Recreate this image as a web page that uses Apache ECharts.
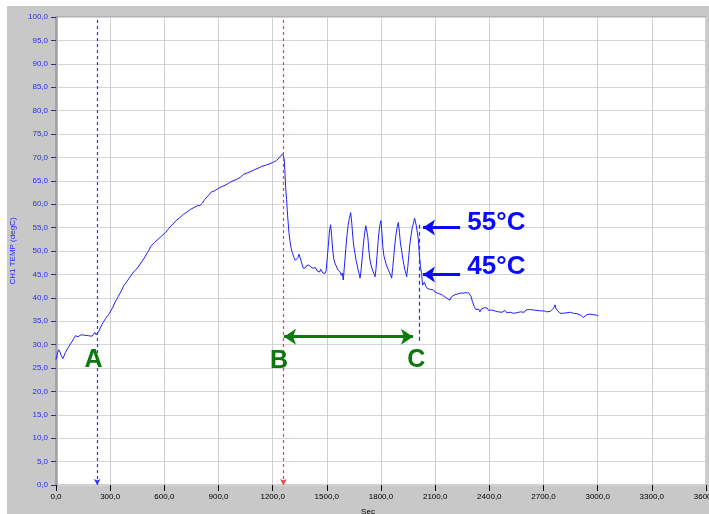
<!DOCTYPE html>
<html>
<head>
<meta charset="utf-8">
<script src="https://cdn.jsdelivr.net/npm/echarts@6/dist/echarts.min.js"></script>
<style>
html,body{margin:0;padding:0;background:#fff;}
#chart{width:709px;height:514px;}
</style>
</head>
<body>
<div id="chart"></div>
<script>
// CH1 temperature [seconds, degC]
const ch1Temp = [
[0,26.8],[8,28.2],[15,28.9],[22,28.4],[30,27.6],[38,27.0],[45,27.3],[52,28.3],[60,28.6],[68,29.4],[78,29.8],[88,30.6],[98,31.3],[108,31.9],[115,32.2],[122,31.7],[130,32.0],[140,32.1],[150,31.8],[160,32.0],[170,32.2],[180,31.9],[190,32.0],[200,31.8],[208,32.2],[215,32.6],[222,32.1],[230,32.4],[238,32.9],[246,33.6],
[255,34.3],[265,35.0],[275,35.6],[285,36.0],[295,36.6],[305,37.3],[315,38.0],[325,38.9],[335,39.6],[345,40.3],[355,41.0],[365,41.7],[375,42.6],[385,43.0],[395,43.6],[405,44.2],[415,44.7],[425,45.3],[435,45.6],[445,46.1],[455,46.6],[465,47.0],[475,47.7],[485,48.3],[495,48.9],[505,49.6],[515,50.2],[525,51.0],[535,51.4],[545,51.8],[555,52.2],[565,52.5],[575,52.9],[585,53.2],[595,53.5],[605,53.9],[615,54.3],[625,54.8],[635,55.3],[645,55.6],[655,56.0],[665,56.5],[675,56.8],[685,57.1],[695,57.4],[705,57.8],[715,58.0],[725,58.3],[735,58.5],[745,58.9],[755,59.1],[765,59.3],[775,59.5],[785,59.7],[790,60.1],[797,59.7],[803,59.6],[810,60.2],[820,60.8],[830,61.3],[840,61.7],[850,62.1],[860,62.6],[870,62.8],[880,62.9],[890,63.3],[900,63.4],[910,63.6],[920,63.8],[930,64.0],[940,64.1],[950,64.4],[960,64.6],[970,64.7],[980,65.0],[990,65.2],[1000,65.3],[1010,65.5],[1020,65.7],[1030,66.0],[1040,66.4],[1050,66.6],[1060,66.7],[1070,66.8],[1080,67.0],[1090,67.2],[1100,67.4],[1110,67.6],[1120,67.7],[1130,67.9],[1140,68.1],[1150,68.2],[1160,68.3],[1170,68.5],[1180,68.6],[1190,68.8],[1200,68.9],[1210,68.8],[1220,69.3],[1230,69.7],[1240,70.1],[1250,70.4],[1256,70.8],[1260,70.6],
[1264,69.5],[1268,67.0],[1272,63.5],[1277,61.0],[1283,57.5],[1290,54.0],[1296,52.0],[1303,50.5],[1310,49.5],[1318,48.6],[1325,48.0],[1333,47.7],[1340,48.6],[1346,49.3],[1352,48.9],[1358,47.8],[1364,47.0],[1370,46.3],[1376,45.9],[1382,46.4],[1388,46.9],[1394,47.3],[1400,47.0],[1406,47.2],[1412,46.6],[1418,46.8],[1424,46.3],[1430,46.0],[1436,46.5],[1442,46.2],[1448,45.7],[1454,46.0],[1460,45.5],[1466,46.1],[1472,45.8],[1478,45.3],[1484,45.6],[1490,45.2],[1496,45.8],
[1500,47.5],[1508,51.0],[1515,54.5],[1521,55.6],[1527,53.0],[1533,50.0],[1539,48.2],[1545,47.4],[1552,46.8],[1560,46.0],[1567,45.9],[1573,45.6],[1580,44.8],[1586,45.3],[1591,43.8],[1598,47.0],[1605,50.5],[1612,53.5],[1618,55.5],[1625,57.0],[1632,58.2],[1638,56.0],[1644,53.0],[1650,50.8],[1656,49.5],[1662,48.0],[1668,47.0],[1674,45.8],[1680,45.0],[1684,44.2],[1690,46.0],[1697,49.0],[1704,52.0],[1710,54.0],[1716,55.4],[1721,55.6],[1727,53.0],[1733,50.0],[1739,48.1],[1745,47.0],[1751,46.2],[1757,45.5],[1762,45.0],[1767,44.5],[1772,46.0],[1778,49.0],[1784,52.0],[1790,54.5],[1795,55.8],[1800,56.5],[1805,54.0],[1810,51.0],[1816,49.0],[1822,48.1],[1828,47.2],[1834,46.6],[1840,46.0],[1846,45.5],[1852,45.0],[1859,44.2],[1865,46.5],[1871,49.0],[1877,51.5],[1883,53.5],[1890,55.2],[1896,56.1],[1902,54.0],[1908,51.5],[1914,50.2],[1920,48.5],[1926,47.2],[1932,46.0],[1938,45.2],[1942,44.5],[1948,46.5],[1954,49.0],[1960,51.5],[1967,53.5],[1973,55.0],[1980,56.0],[1986,57.0],[1990,56.8],[1995,55.5],[2001,54.0],[2007,52.4],[2013,49.0],[2019,46.5],[2025,45.2],[2030,42.7],
[2040,43.3],[2048,42.5],[2056,42.0],[2064,42.3],[2072,41.8],[2080,41.9],[2090,41.7],[2100,41.2],[2110,41.4],[2120,40.9],[2130,41.0],[2140,40.6],[2150,40.3],[2160,40.0],[2170,39.8],[2182,39.5],[2190,40.2],[2198,40.0],[2206,40.6],[2214,40.3],[2222,40.8],[2230,40.5],[2238,41.0],[2246,40.6],[2254,41.0],[2262,40.7],[2270,41.1],[2278,40.8],[2286,41.0],[2293,41.0],[2300,40.2],[2306,39.2],[2311,38.8],[2318,38.0],[2325,37.5],[2332,37.2],[2340,37.6],[2348,37.0],[2356,37.6],[2364,37.3],[2372,37.9],[2380,37.5],[2388,37.8],[2396,37.3],[2404,37.7],[2412,37.4],[2422,37.7],[2430,37.2],[2440,37.5],[2450,37.0],[2460,37.3],[2470,36.9],[2477,37.0],[2487,37.3],[2497,36.8],[2507,37.2],[2517,36.9],[2527,36.6],[2533,36.7],[2543,37.1],[2553,36.8],[2563,37.2],[2573,37.0],[2583,37.3],[2593,36.9],[2603,37.4],[2613,37.1],[2623,37.5],[2633,37.2],[2644,37.4],[2654,37.0],[2664,37.3],[2674,36.9],[2684,37.2],[2694,36.9],[2704,37.2],[2718,37.0],[2728,37.3],[2738,37.1],[2748,37.5],[2756,37.8],[2764,38.5],[2770,37.6],[2778,37.2],[2791,36.7],[2800,37.0],[2810,36.7],[2820,37.0],[2830,36.8],[2840,36.6],[2850,36.9],[2865,36.7],[2875,36.4],[2885,36.6],[2895,36.2],[2905,36.3],[2915,36.0],[2921,35.8],[2930,36.2],[2940,36.4],[2950,36.1],[2958,36.5],[2966,36.2],[2975,36.4],[2985,36.2],[2995,36.3],[3004,36.1]
];

// Cursor / annotation values (data units)
const cursorA = 228;
const cursorB = 1259;
const cursorC = 2010;
const cursorCRange = [30.8, 55.9];
const spanBC = [1263, 1977];
const spanBCLevel = 31.7;
const setpointTemps = [55, 45];
const setpointArrowFromTo = [2238, 2033];
const letterLabels = [['A', 208, 26.7], ['B', 1235, 26.5], ['C', 1996, 26.7]];
const setpointLabels = [['55°C', 2439, 56.1], ['45°C', 2439, 46.7]];

const fmt = v => v.toFixed(1).replace('.', ',');

const chart = echarts.init(document.getElementById('chart'), null, {renderer: 'canvas'});
const FONT = 'Liberation Sans, Arial, sans-serif';

chart.setOption({
  animation: false,
  backgroundColor: '#ffffff',
  graphic: [{
    type: 'rect', left: 7, top: 6, z: -100, silent: true,
    shape: {width: 702, height: 508},
    style: {fill: '#c8c8c8'}
  }],
  grid: {
    left: 56, top: 17, right: 3, bottom: 29,
    outerBoundsMode: 'none', containLabel: false,
    show: true, backgroundColor: '#ffffff', borderColor: '#9a9a9a', borderWidth: 1
  },
  xAxis: {
    type: 'value', min: 0, max: 3600, interval: 300,
    name: 'Sec', nameLocation: 'middle', nameGap: 23,
    nameTextStyle: {fontFamily: FONT, fontSize: 8, color: '#000', padding: [0, 26, 0, 0]},
    axisLine: {show: false},
    axisTick: {show: true, length: 6, lineStyle: {color: '#000', width: 1}},
    axisLabel: {fontFamily: FONT, fontSize: 8, color: '#000', margin: 8, formatter: fmt, showMaxLabel: true, hideOverlap: false},
    splitLine: {show: true, lineStyle: {color: '#cfcfcf', width: 1}}
  },
  yAxis: {
    type: 'value', min: 0, max: 100, interval: 5,
    name: 'CH1 TEMP (degC)', nameLocation: 'middle', nameGap: 37, nameRotate: 90,
    nameTextStyle: {fontFamily: FONT, fontSize: 8, color: '#2a2aff'},
    axisLine: {show: true, lineStyle: {color: '#a0a0a0', width: 2.5}},
    axisTick: {show: true, length: 5, lineStyle: {color: '#2a2a9a', width: 1}},
    axisLabel: {fontFamily: FONT, fontSize: 8, color: '#2a2aff', margin: 8, formatter: fmt},
    splitLine: {show: true, lineStyle: {color: '#d6d6d6', width: 1}}
  },
  series: [
    {
      type: 'line', data: ch1Temp, showSymbol: false, smooth: false,
      lineStyle: {color: '#2020ff', width: 1}, itemStyle: {color: '#2020ff'},
      z: 3,
      markLine: {
        silent: true, animation: false,
        label: {show: false},
        data: [
          [{coord: [cursorA, 0], symbol: 'arrow', symbolSize: [5, 6], lineStyle: {color: '#2f2fff', type: [3, 3], width: 1.2}},
           {coord: [cursorA, 100], symbol: 'none'}],
          [{coord: [cursorB, 0], symbol: 'arrow', symbolSize: [5, 6], lineStyle: {color: '#ff3a3a', type: [3, 3], width: 1.2}},
           {coord: [cursorB, 100], symbol: 'none'}],
          [{coord: [cursorC, cursorCRange[0]], symbol: 'none', lineStyle: {color: '#2a2aff', type: [4, 3], width: 1.2}},
           {coord: [cursorC, cursorCRange[1]], symbol: 'none'}],
          [{coord: [spanBC[0], spanBCLevel], symbol: 'arrow', symbolSize: [12, 12], lineStyle: {color: '#0c7a0c', type: 'solid', width: 3}},
           {coord: [spanBC[1], spanBCLevel], symbol: 'arrow', symbolSize: [12, 12]}],
          [{coord: [setpointArrowFromTo[0], setpointTemps[0]], symbol: 'none', lineStyle: {color: '#0a0aff', type: 'solid', width: 3}},
           {coord: [setpointArrowFromTo[1], setpointTemps[0]], symbol: 'arrow', symbolSize: [12, 12]}],
          [{coord: [setpointArrowFromTo[0], setpointTemps[1]], symbol: 'none', lineStyle: {color: '#0a0aff', type: 'solid', width: 3}},
           {coord: [setpointArrowFromTo[1], setpointTemps[1]], symbol: 'arrow', symbolSize: [12, 12]}]
        ]
      }
    },
    {
      type: 'scatter', silent: true, symbolSize: 1, z: 5,
      itemStyle: {color: 'rgba(0,0,0,0)', opacity: 1},
      data: letterLabels.map(d => ({name: d[0], value: [d[1], d[2]]})),
      label: {show: true, position: 'inside', formatter: p => p.name, opacity: 1,
        fontFamily: FONT, fontWeight: 'bold', fontSize: 25, color: '#0a780a'}
    },
    {
      type: 'scatter', silent: true, symbolSize: 1, z: 5,
      itemStyle: {color: 'rgba(0,0,0,0)', opacity: 1},
      data: setpointLabels.map(d => ({name: d[0], value: [d[1], d[2]]})),
      label: {show: true, position: 'inside', formatter: p => p.name, opacity: 1,
        fontFamily: FONT, fontWeight: 'bold', fontSize: 26, color: '#0a0aff'}
    }
  ]
});
</script>
</body>
</html>
